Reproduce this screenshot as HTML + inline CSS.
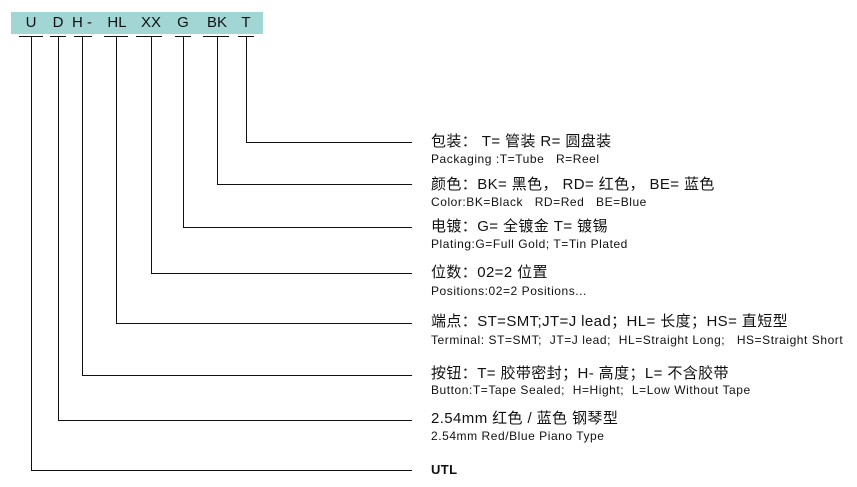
<!DOCTYPE html>
<html><head><meta charset="utf-8"><style>
body{margin:0;width:857px;height:487px;background:#fff;position:relative;overflow:hidden;font-family:"Liberation Sans","Noto Sans CJK SC",sans-serif;color:#111}
.h{position:absolute;background:#111;height:1px}
.v{position:absolute;background:#111;width:1px}
.t{position:absolute;left:431px;font-size:15px;letter-spacing:0.4px;white-space:nowrap;line-height:16px}
.s{position:absolute;left:431px;font-size:12px;letter-spacing:0.55px;white-space:nowrap;line-height:13px}
.bar{position:absolute;left:11px;top:12px;width:252px;height:22px;background:#a2d6d4}
.bar span{position:absolute;top:3px;font-size:15px;line-height:16px;transform:translateX(-50%)}
</style></head><body>
<div class="bar">
<span style="left:20px">U</span><span style="left:47px">D</span><span style="left:71px">H -</span><span style="left:106px">HL</span><span style="left:140px">XX</span><span style="left:172px">G</span><span style="left:206px">BK</span><span style="left:235px">T</span>
</div>
<div class="h" style="left:19px;top:36px;width:24px"></div>
<div class="h" style="left:50px;top:36px;width:16px"></div>
<div class="h" style="left:74px;top:36px;width:18px"></div>
<div class="h" style="left:104px;top:36px;width:24px"></div>
<div class="h" style="left:136px;top:36px;width:26px"></div>
<div class="h" style="left:175px;top:36px;width:16px"></div>
<div class="h" style="left:203px;top:36px;width:26px"></div>
<div class="h" style="left:238px;top:36px;width:16px"></div>

<div class="v" style="left:246px;top:36px;height:107px"></div><div class="h" style="left:246px;top:142px;width:166px"></div>
<div class="v" style="left:217px;top:36px;height:149px"></div><div class="h" style="left:217px;top:184px;width:195px"></div>
<div class="v" style="left:183px;top:36px;height:192px"></div><div class="h" style="left:183px;top:227px;width:229px"></div>
<div class="v" style="left:151px;top:36px;height:238px"></div><div class="h" style="left:151px;top:273px;width:261px"></div>
<div class="v" style="left:116px;top:36px;height:288px"></div><div class="h" style="left:116px;top:323px;width:296px"></div>
<div class="v" style="left:82px;top:36px;height:340px"></div><div class="h" style="left:82px;top:375px;width:330px"></div>
<div class="v" style="left:58px;top:36px;height:385px"></div><div class="h" style="left:58px;top:420px;width:354px"></div>
<div class="v" style="left:31px;top:36px;height:435px"></div><div class="h" style="left:31px;top:470px;width:381px"></div>

<div class="t" style="top:134px">包装： T= 管装 R= 圆盘装</div>
<div class="s" style="top:153px">Packaging :T=Tube &nbsp; R=Reel</div>
<div class="t" style="top:177px">颜色：BK= 黑色， RD= 红色， BE= 蓝色</div>
<div class="s" style="top:196px">Color:BK=Black &nbsp; RD=Red &nbsp; BE=Blue</div>
<div class="t" style="top:219px">电镀：G= 全镀金 T= 镀锡</div>
<div class="s" style="top:238px">Plating:G=Full Gold; T=Tin Plated</div>
<div class="t" style="top:265px">位数：02=2 位置</div>
<div class="s" style="top:285px">Positions:02=2 Positions...</div>
<div class="t" style="top:314px">端点：ST=SMT;JT=J lead；HL= 长度；HS= 直短型</div>
<div class="s" style="top:334px">Terminal: ST=SMT; &nbsp;JT=J lead; &nbsp;HL=Straight Long; &nbsp; HS=Straight Short</div>
<div class="t" style="top:366px">按钮：T= 胶带密封；H- 高度；L= 不含胶带</div>
<div class="s" style="top:384px">Button:T=Tape Sealed; &nbsp;H=Hight; &nbsp;L=Low Without Tape</div>
<div class="t" style="top:411px">2.54mm 红色 / 蓝色 钢琴型</div>
<div class="s" style="top:430px">2.54mm Red/Blue Piano Type</div>
<div class="t" style="top:462px;font-weight:bold;font-size:13px">UTL</div>
</body></html>
